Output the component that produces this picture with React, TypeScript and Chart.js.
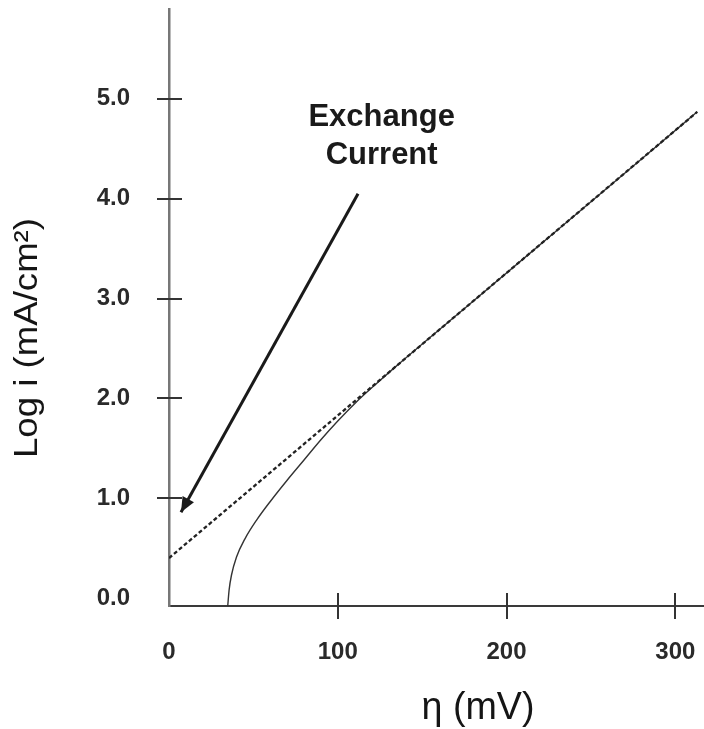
import React, { useEffect, useRef } from 'react';
import { Chart, registerables } from 'chart.js';

Chart.register(...registerables);

// ---- data ----
const xTicks = [0, 100, 200, 300];
const xTickLabels = ['0', '100', '200', '300'];
const yTicks = [0, 1, 2, 3, 4, 5];
const yTickLabels = ['0.0', '1.0', '2.0', '3.0', '4.0', '5.0'];

// Tafel extrapolation (dashed)
const tafelX = [0, 313];
const tafelY = [0.4, 4.87];

// measured polarization curve (solid)
const curveX = [34.8, 35.6, 37, 40, 45, 52, 60, 70, 80, 90, 100, 110, 122, 135, 180, 230, 280, 313];
const curveY = [-0.08, 0.078, 0.228, 0.411, 0.593, 0.783, 0.967, 1.18, 1.382, 1.585, 1.773, 1.947, 2.134, 2.328, 2.97, 3.684, 4.398, 4.87];

// annotation arrow (tail -> head)
const arrowX = [112, 7.1];
const arrowY = [4.05, 0.86];

const annotationLines = ['Exchange', 'Current'];
const annotationX = 126;
const annotationY = [4.73, 4.35];

const xTitle = 'η (mV)';
const yTitle = 'Log i (mA/cm²)';

const FONT = '"Liberation Sans", Arial, Helvetica, sans-serif';

const toPoints = (xs: number[], ys: number[]) => xs.map((v, i) => ({ x: v, y: ys[i] }));

const overlayPlugin = {
  id: 'overlay',
  afterDraw(chart: any) {
    const { ctx, chartArea } = chart;
    const xs = chart.scales.x;
    const ys = chart.scales.y;
    ctx.save();

    // crossing tick marks
    ctx.strokeStyle = '#333';
    ctx.lineWidth = 2;
    yTicks.forEach((v) => {
      if (v === 0) return;
      const py = Math.round(ys.getPixelForValue(v));
      ctx.beginPath();
      ctx.moveTo(chartArea.left - 12, py);
      ctx.lineTo(chartArea.left + 13, py);
      ctx.stroke();
    });
    xTicks.forEach((v) => {
      if (v === 0) return;
      const px = Math.round(xs.getPixelForValue(v));
      ctx.beginPath();
      ctx.moveTo(px, chartArea.bottom - 13);
      ctx.lineTo(px, chartArea.bottom + 13);
      ctx.stroke();
    });

    // arrowhead
    const n = arrowX.length;
    const x0 = xs.getPixelForValue(arrowX[n - 2]);
    const y0 = ys.getPixelForValue(arrowY[n - 2]);
    const x1 = xs.getPixelForValue(arrowX[n - 1]);
    const y1 = ys.getPixelForValue(arrowY[n - 1]);
    const a = Math.atan2(y1 - y0, x1 - x0);
    const L = 15;
    const W = 6.5;
    const c = Math.cos(a);
    const s = Math.sin(a);
    ctx.fillStyle = '#1a1a1a';
    ctx.beginPath();
    ctx.moveTo(x1, y1);
    ctx.lineTo(x1 - L * c + W * s, y1 - L * s - W * c);
    ctx.lineTo(x1 - L * c - W * s, y1 - L * s + W * c);
    ctx.closePath();
    ctx.fill();

    // annotation text
    ctx.fillStyle = '#1a1a1a';
    ctx.font = `bold 31px ${FONT}`;
    ctx.textAlign = 'center';
    ctx.textBaseline = 'alphabetic';
    annotationLines.forEach((t, i) => {
      ctx.fillText(t, xs.getPixelForValue(annotationX), ys.getPixelForValue(annotationY[i]));
    });

    // axis titles
    ctx.fillStyle = '#151515';
    ctx.textBaseline = 'middle';
    ctx.textAlign = 'center';

    ctx.save();
    ctx.font = `33px ${FONT}`;
    const wy = ctx.measureText(yTitle).width;
    ctx.translate(28, 338);
    ctx.rotate(-Math.PI / 2);
    ctx.scale(240 / wy, 1);
    ctx.fillText(yTitle, 0, 0);
    ctx.restore();

    ctx.save();
    ctx.font = `38px ${FONT}`;
    const wx = ctx.measureText(xTitle).width;
    ctx.translate(478, 709);
    ctx.scale(113 / wx, 1);
    ctx.fillText(xTitle, 0, 0);
    ctx.restore();

    ctx.restore();
  },
};

export default function App() {
  const canvasRef = useRef<HTMLCanvasElement | null>(null);

  useEffect(() => {
    document.body.style.margin = '0';
    document.body.style.overflow = 'hidden';
    const canvas = canvasRef.current;
    if (!canvas) return;

    const tickFont = { family: FONT, size: 24, weight: 'bold' as const };

    const chart = new Chart(canvas, {
      type: 'line',
      data: {
        datasets: [
          {
            label: 'Tafel',
            data: toPoints(tafelX, tafelY),
            borderColor: '#222',
            borderWidth: 2.3,
            borderDash: [4, 2.5],
            pointRadius: 0,
            fill: false,
          },
          {
            label: 'Measured',
            data: toPoints(curveX, curveY),
            borderColor: '#333',
            borderWidth: 1.4,
            pointRadius: 0,
            cubicInterpolationMode: 'monotone',
            fill: false,
          },
          {
            label: 'Arrow',
            data: toPoints(arrowX, arrowY),
            borderColor: '#1a1a1a',
            borderWidth: 3,
            pointRadius: 0,
            fill: false,
          },
        ],
      },
      options: {
        responsive: false,
        animation: false,
        devicePixelRatio: 1,
        layout: { padding: { top: 9, right: 0, bottom: 0, left: 0 } },
        plugins: {
          legend: { display: false },
          tooltip: { enabled: false },
          title: { display: false },
        },
        scales: {
          x: {
            type: 'linear',
            min: 0,
            max: 317,
            afterBuildTicks: (scale: any) => {
              scale.ticks = xTicks.map((v) => ({ value: v }));
            },
            afterFit: (scale: any) => {
              scale.height = 123;
              scale.paddingLeft = 0;
              scale.paddingRight = 0;
            },
            grid: { display: false, drawTicks: false },
            border: { display: true, color: '#3a3a3a', width: 2 },
            ticks: {
              autoSkip: false,
              maxRotation: 0,
              padding: 32,
              color: '#2a2a2a',
              font: tickFont,
              callback: (v: any) => xTickLabels[xTicks.indexOf(Number(v))] ?? '',
            },
          },
          y: {
            type: 'linear',
            min: -0.08,
            max: 5.9,
            afterBuildTicks: (scale: any) => {
              scale.ticks = yTicks.map((v) => ({ value: v }));
            },
            afterFit: (scale: any) => {
              scale.width = 169;
              scale.paddingTop = 0;
              scale.paddingBottom = 0;
            },
            grid: { display: false, drawTicks: false },
            border: { display: true, color: '#777', width: 2.5 },
            ticks: {
              autoSkip: false,
              padding: 39,
              color: '#2a2a2a',
              font: tickFont,
              callback: (v: any) => yTickLabels[yTicks.indexOf(Number(v))] ?? '',
            },
          },
        },
      },
      plugins: [overlayPlugin],
    } as any);

    return () => {
      chart.destroy();
    };
  }, []);

  return (
    <div style={{ width: 704, height: 729, background: '#fff' }}>
      <canvas ref={canvasRef} width={704} height={729} style={{ display: 'block' }} />
    </div>
  );
}
